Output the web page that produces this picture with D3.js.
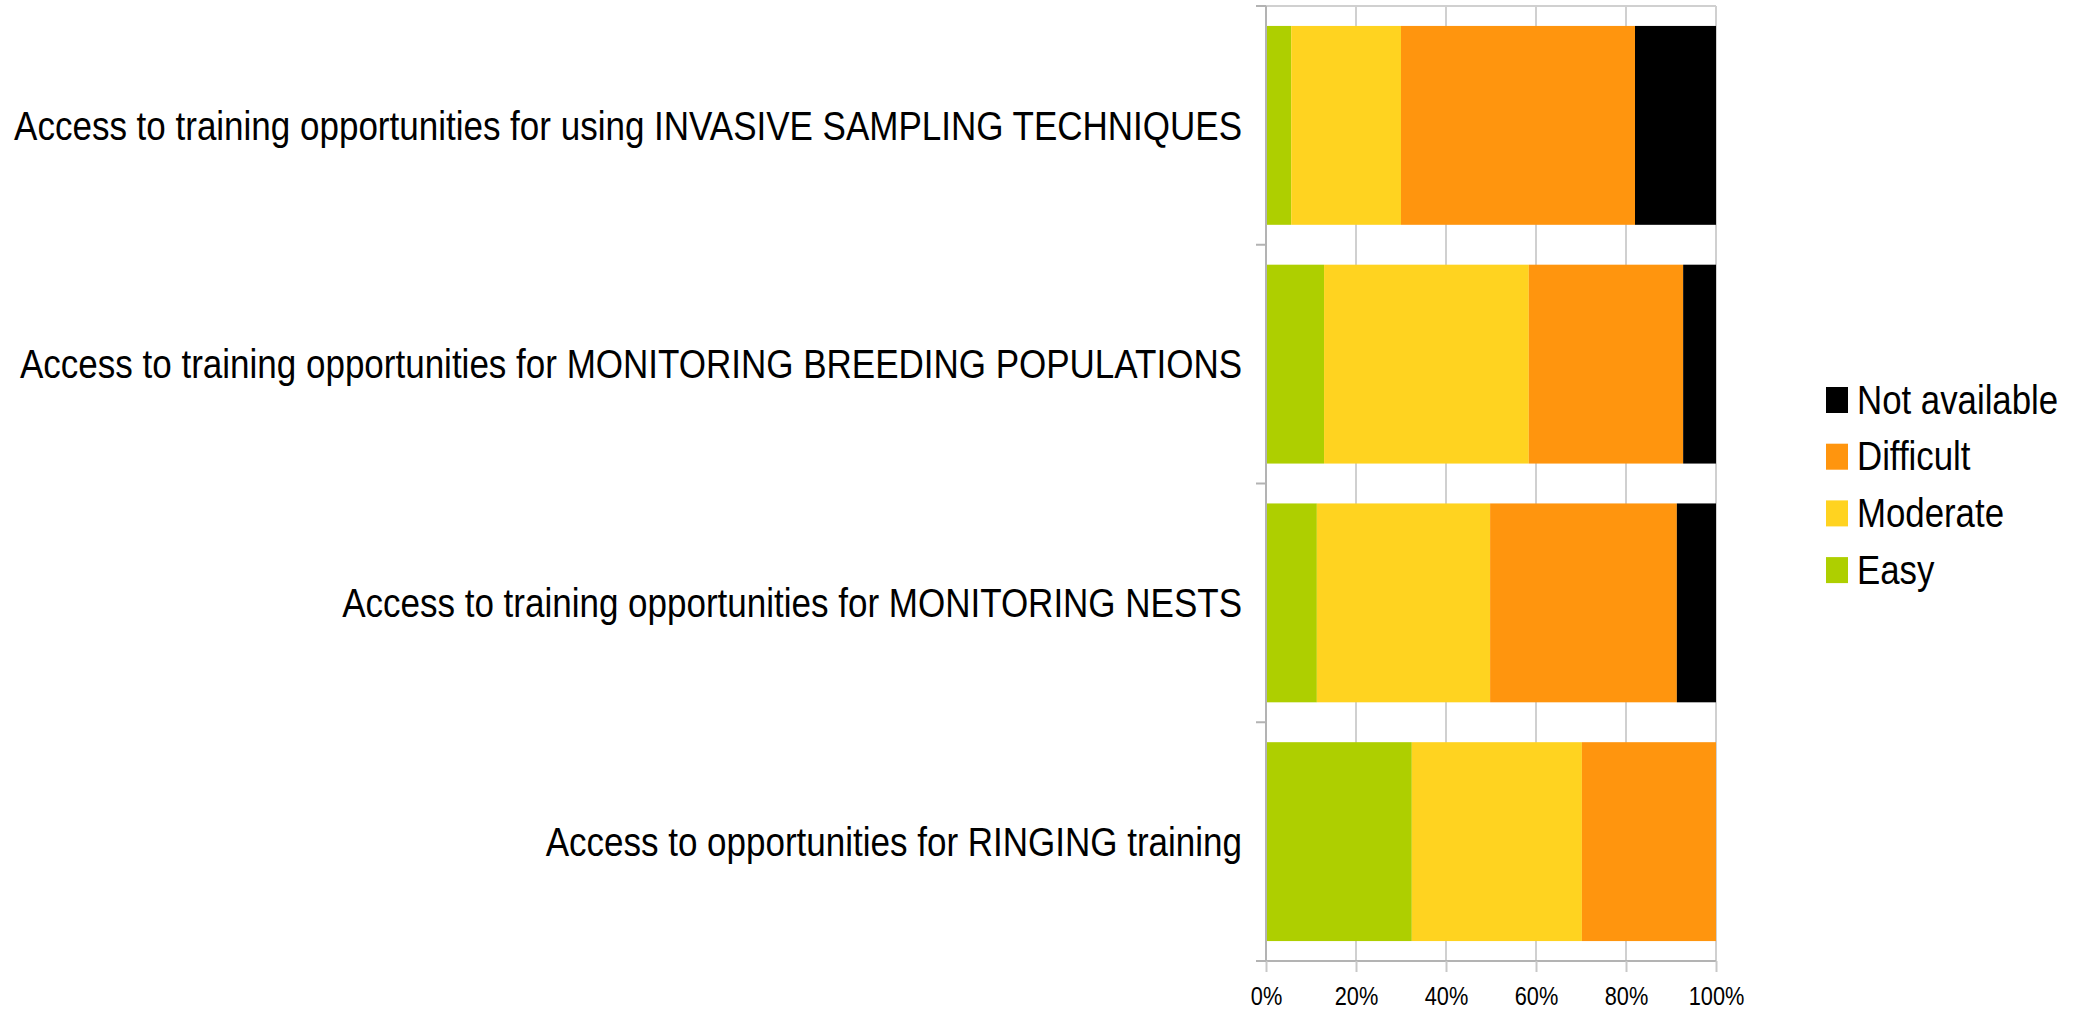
<!DOCTYPE html>
<html>
<head>
<meta charset="utf-8">
<script src="https://cdn.jsdelivr.net/npm/d3@7"></script>
<style>
  body { margin: 0; background: #fff; }
  svg { display: block; font-family: "Liberation Sans", Arial, sans-serif; }
</style>
</head>
<body>
<svg id="chart" width="2075" height="1012"></svg>
<script>
// categories, top to bottom
const categories = [
    "Access to training opportunities for using INVASIVE SAMPLING TECHNIQUES",
    "Access to training opportunities for MONITORING BREEDING POPULATIONS",
    "Access to training opportunities for MONITORING NESTS",
    "Access to opportunities for RINGING training"
];

// percentages per series, same order as categories
const easy = [5.6, 12.9, 11.3, 32.4];
const moderate = [24.4, 45.5, 38.5, 37.8];
const difficult = [52.0, 34.3, 41.5, 29.8];
const notAvailable = [18.0, 7.3, 8.7, 0];

const seriesNames = ["Easy", "Moderate", "Difficult", "Not available"];
const seriesColors = ["#aecf00", "#ffd320", "#ff950e", "#000000"];
const xTicks = [0, 20, 40, 60, 80, 100];

// text in the reference is narrow, squeeze it horizontally
const squeeze = 0.87;
const labelSqueeze = 0.875;

const svg = d3.select("#chart");

const plot = { left: 1266, right: 1716, top: 6, bottom: 961 };

const x = d3.scaleLinear().domain([0, 100]).range([plot.left, plot.right]);
const y = d3.scaleBand()
    .domain(categories)
    .range([plot.top, plot.bottom])
    .paddingInner(0.167)
    .paddingOuter(0.0835);

// build stacked rows
const rows = categories.map((c, i) => ({
    category: c,
    Easy: easy[i],
    Moderate: moderate[i],
    Difficult: difficult[i],
    "Not available": notAvailable[i]
}));
const stacked = d3.stack().keys(seriesNames)(rows);

// vertical gridlines
svg.append("g")
    .selectAll("line")
    .data(xTicks)
    .enter()
    .append("line")
    .attr("x1", d => x(d))
    .attr("x2", d => x(d))
    .attr("y1", plot.top)
    .attr("y2", plot.bottom)
    .attr("stroke", "#d0d0d0")
    .attr("stroke-width", 2);

// top border
svg.append("line")
    .attr("x1", plot.left).attr("x2", plot.right)
    .attr("y1", plot.top).attr("y2", plot.top)
    .attr("stroke", "#d0d0d0")
    .attr("stroke-width", 2);

// bars
svg.append("g")
    .selectAll("g")
    .data(stacked)
    .enter()
    .append("g")
    .attr("fill", (d, i) => seriesColors[i])
    .selectAll("rect")
    .data(d => d)
    .enter()
    .append("rect")
    .attr("x", d => x(d[0]))
    .attr("width", d => x(d[1]) - x(d[0]))
    .attr("y", d => y(d.data.category))
    .attr("height", y.bandwidth());

// x axis
const xAxis = svg.append("g")
    .attr("transform", `translate(0,${plot.bottom})`)
    .call(d3.axisBottom(x).tickValues(xTicks).tickSize(11).tickSizeOuter(0).tickFormat(d => d + "%"));
xAxis.select(".domain").attr("stroke", "#b3b3b3").attr("stroke-width", 2)
    .attr("d", `M${plot.left - 10},0H${plot.right}`);
xAxis.selectAll(".tick line").attr("stroke", "#c8c8c8").attr("stroke-width", 2);
xAxis.selectAll(".tick text").remove();
xAxis.selectAll(".tick")
    .append("g")
    .attr("transform", `translate(0,44) scale(${squeeze},1)`)
    .append("text")
    .attr("text-anchor", "middle")
    .attr("font-size", 25)
    .attr("fill", "#000")
    .text(d => d + "%");

// y axis line and category separators
const boundaries = categories.map(c => y(c) - y.step() * y.paddingInner() / 2).concat([plot.bottom]);
svg.append("line")
    .attr("x1", plot.left).attr("x2", plot.left)
    .attr("y1", plot.top).attr("y2", plot.bottom)
    .attr("stroke", "#b3b3b3")
    .attr("stroke-width", 2);
svg.append("g")
    .selectAll("line")
    .data(boundaries)
    .enter()
    .append("line")
    .attr("x1", plot.left - 10)
    .attr("x2", plot.left)
    .attr("y1", d => d)
    .attr("y2", d => d)
    .attr("stroke", "#b3b3b3")
    .attr("stroke-width", 2);

// category labels
svg.append("g")
    .selectAll("g")
    .data(categories)
    .enter()
    .append("g")
    .attr("transform", d => `translate(${plot.left - 24},${y(d) + y.bandwidth() / 2 + 14.3}) scale(${labelSqueeze},1)`)
    .append("text")
    .attr("text-anchor", "end")
    .attr("font-size", 40)
    .attr("fill", "#000")
    .text(d => d);

// legend, reversed order
const legendItems = seriesNames.map((name, i) => ({ name, color: seriesColors[i] })).reverse();
const legend = svg.append("g")
    .attr("transform", "translate(1826,400)")
    .selectAll("g")
    .data(legendItems)
    .enter()
    .append("g")
    .attr("transform", (d, i) => `translate(0,${i * 56.7})`);

legend.append("rect")
    .attr("x", 0)
    .attr("y", -13)
    .attr("width", 22)
    .attr("height", 26)
    .attr("fill", d => d.color);

legend.append("g")
    .attr("transform", `translate(31,13.5) scale(${squeeze},1)`)
    .append("text")
    .attr("font-size", 40)
    .attr("fill", "#000")
    .text(d => d.name);
</script>
</body>
</html>
